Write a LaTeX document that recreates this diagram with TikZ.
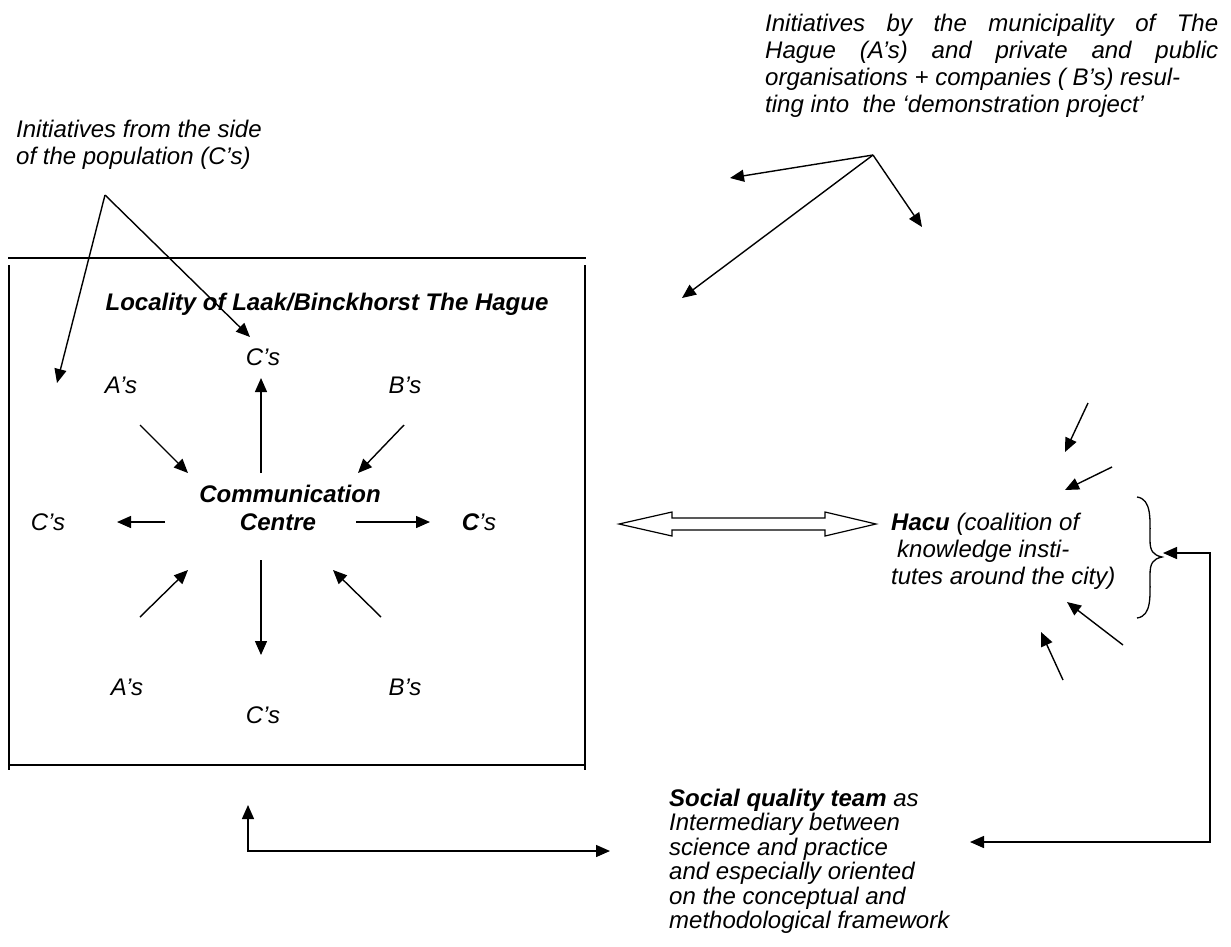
\documentclass[tikz,border=0pt]{standalone}
\usepackage{fontspec}
\setmainfont{Liberation Sans}
\usetikzlibrary{arrows.meta,calc}
\begin{document}
\begin{tikzpicture}[x=1pt,y=-1pt,
  txt/.style={font=\fontsize{24}{27}\selectfont\itshape, inner sep=0pt, anchor=base},
  para/.style={txt, anchor=base west},
  bld/.style={txt, font=\fontsize{24}{27}\selectfont\itshape\bfseries},
  tip/.style={-{Triangle[length=14pt,width=12pt]}},
  conn/.style={line width=1.4pt, tip},
  frame/.style={line width=1.5pt},
]
\useasboundingbox (0,0) rectangle (1231,946);

% ---------- texts ----------
\node[para] (munic) at (765,31) {\parbox[t]{453pt}{%
  \makebox[453pt][s]{Initiatives by the municipality of The}\\
  \makebox[453pt][s]{Hague (A’s) and private and public}\\
  organisations + companies ( B’s) resul-\\
  ting into\ \ the ‘demonstration project’}};

\node[para] (popu) at (16,137) {\parbox[t]{300pt}{%
  Initiatives from the side\\ of the population (C’s)}};

\node[bld] (title) at (327,310) {Locality of Laak/Binckhorst The Hague};

\node[txt] (cT) at (263,365) {C’s};
\node[txt] (aT) at (121,393) {A’s};
\node[txt] (bT) at (405,393) {B’s};
\node[bld] (comm) at (290,502) {Communication};
\node[bld] (centre) at (278,530) {Centre};
\node[txt] (cL) at (48,530) {C’s};
\node[txt] (cR) at (479,530) {\textbf{C}’s};
\node[txt] (aB) at (127,695) {A’s};
\node[txt] (bB) at (405,695) {B’s};
\node[txt] (cB) at (263,723) {C’s};

\node[para] (hacu) at (891,530) {\parbox[t]{300pt}{%
  \textbf{Hacu} (coalition of\\
  \hspace*{6pt}knowledge insti-\\
  tutes around the city)}};

\node[para] (sq) at (669,806) {\parbox[t]{320pt}{\fontsize{24}{24.5}\selectfont
  \textbf{Social quality team} as\\
  Intermediary between\\
  science and practice\\
  and especially oriented\\
  on the conceptual and\\
  methodological framework}};

% ---------- locality frame ----------
\draw[frame] (8,258) -- (586,258);
\draw[frame] (9,265) -- (9,770);
\draw[frame] (585,265) -- (585,770);
\draw[frame] (9,765) -- (585,765);

% ---------- population initiatives ----------
\coordinate (apexL) at (105,195);
\coordinate (popL) at (57,383);
\coordinate (popC) at (250,337);
\draw[conn] (apexL) -- (popL);
\draw[conn] (apexL) -- (popC);

% ---------- municipality / organisations initiatives ----------
\coordinate (apexR) at (873,155);
\coordinate (munA) at (730,178);
\coordinate (munB) at (682,298);
\coordinate (munC) at (922,227);
\draw[conn] (apexR) -- (munA);
\draw[conn] (apexR) -- (munB);
\draw[conn] (apexR) -- (munC);

% ---------- communication centre star ----------
\coordinate (upS) at (261,473);   \coordinate (upE) at (261,378);
\coordinate (atS) at (140,425);   \coordinate (atE) at (188,473);
\coordinate (btS) at (404,425);   \coordinate (btE) at (358,473);
\coordinate (lfS) at (165,522);   \coordinate (lfE) at (117,522);
\coordinate (rtS) at (356,522);   \coordinate (rtE) at (430,522);
\coordinate (dnS) at (261,560);   \coordinate (dnE) at (261,655);
\coordinate (abS) at (140,617);   \coordinate (abE) at (188,570);
\coordinate (bbS) at (381,617);   \coordinate (bbE) at (333,570);
\foreach \s/\e in {upS/upE,atS/atE,btS/btE,lfS/lfE,rtS/rtE,dnS/dnE,abS/abE,bbS/bbE}
  \draw[conn] (\s) -- (\e);

% ---------- hollow double arrow ----------
\coordinate (dL) at (619,524);
\coordinate (dR) at (876,524);
\draw[line width=1.2pt, line join=miter]
  (dL) -- ($(dL)+(53,-12)$) -- ($(dL)+(53,-6)$) -- ($(dR)+(-51,-6)$)
  -- ($(dR)+(-51,-12)$) -- (dR) -- ($(dR)+(-51,12)$) -- ($(dR)+(-51,6)$)
  -- ($(dL)+(53,6)$) -- ($(dL)+(53,12)$) -- cycle;

% ---------- arrows around Hacu ----------
\coordinate (h1S) at (1088,403); \coordinate (h1E) at (1065,452);
\coordinate (h2S) at (1112,467); \coordinate (h2E) at (1065,490);
\coordinate (h3S) at (1123,645); \coordinate (h3E) at (1067,602);
\coordinate (h4S) at (1063,680); \coordinate (h4E) at (1041,632);
\foreach \s/\e in {h1S/h1E,h2S/h2E,h3S/h3E,h4S/h4E}
  \draw[conn] (\s) -- (\e);

% ---------- brace ----------
\coordinate (brTop) at (1137,497);
\coordinate (brTip) at (1162,557);
\coordinate (brBot) at (1137,618);
\draw[line width=1.3pt]
  (brTop) .. controls (1152,499) and (1150,520) .. (1150,540)
  .. controls (1150,551) and (1153,555) .. (brTip)
  .. controls (1153,559) and (1150,563) .. (1150,575)
  .. controls (1150,596) and (1152,616) .. (brBot);

% ---------- feedback loop on the right ----------
\coordinate (brArr) at (1163,553);
\coordinate (rTop) at (1210,553);
\coordinate (rBot) at (1210,842);
\coordinate (sqR) at (970,842);
\draw[line width=1.4pt, {Triangle[length=14pt,width=12pt]}-{Triangle[length=14pt,width=12pt]}]
  (brArr) -- (rTop) -- (rBot) -- (sqR);

% ---------- link between locality and the team ----------
\coordinate (locB) at (248,805);
\coordinate (lCorner) at (248,851);
\coordinate (sqL) at (610,851);
\draw[line width=1.4pt, {Triangle[length=14pt,width=12pt]}-{Triangle[length=14pt,width=12pt]}]
  (locB) -- (lCorner) -- (sqL);
\end{tikzpicture}
\end{document}
